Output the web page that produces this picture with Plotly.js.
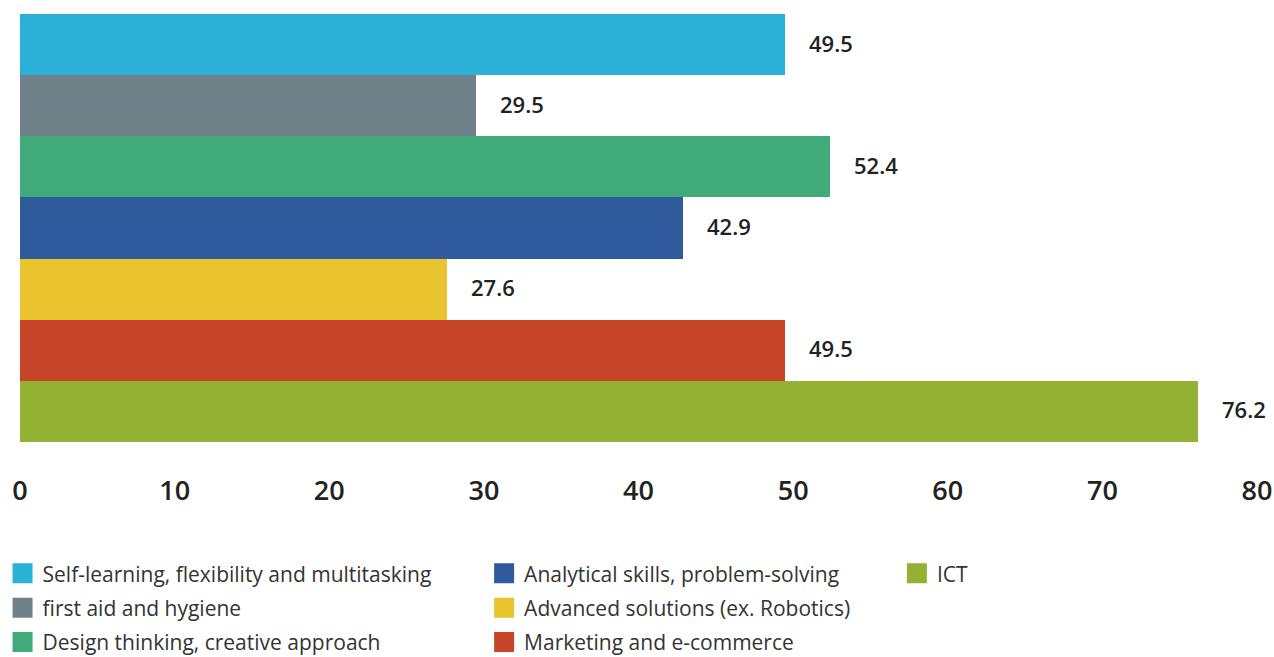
<!DOCTYPE html>
<html>
<head>
<meta charset="utf-8">
<script src="https://cdn.plot.ly/plotly-3.0.1.min.js"></script>
<style>html,body{margin:0;padding:0;background:#fff;}#chart{width:1274px;height:657px;}</style>
</head>
<body>
<div id="chart"></div>
<script>
var categories = [
  "Self-learning, flexibility and multitasking",
  "first aid and hygiene",
  "Design thinking, creative approach",
  "Analytical skills, problem-solving",
  "Advanced solutions (ex. Robotics)",
  "Marketing and e-commerce",
  "ICT"
];
var values = [49.5, 29.5, 52.4, 42.9, 27.6, 49.5, 76.2];
var valueLabels = ["49.5", "29.5", "52.4", "42.9", "27.6", "49.5", "76.2"];
var colors = ["#2bb1d7", "#718189", "#41aa7b", "#2f5b9d", "#e9c42f", "#c84428", "#93b233"];
var legendColumn = ["legend", "legend", "legend", "legend2", "legend2", "legend2", "legend3"];
var xTicks = [0, 10, 20, 30, 40, 50, 60, 70, 80];

var traces = [];
categories.forEach(function (c, i) {
  traces.push({
    type: "bar", orientation: "h",
    x: [values[i]], y: [c],
    marker: {color: colors[i]},
    showlegend: false, hoverinfo: "x+y"
  });
});
categories.forEach(function (c, i) {
  traces.push({
    type: "scatter", mode: "markers",
    x: [null], y: [null],
    name: c,
    legend: legendColumn[i],
    legendgroup: "g" + i,
    marker: {symbol: "square", size: 16, color: colors[i], line: {color: colors[i], width: 4}},
    showlegend: true, hoverinfo: "skip"
  });
});

var annotations = categories.map(function (c, i) {
  return {
    x: values[i], y: c, xref: "x", yref: "y",
    text: valueLabels[i], showarrow: false,
    xanchor: "left", yanchor: "middle", xshift: 22, yshift: 2,
    font: {family: "Open Sans", size: 22, color: "#222", weight: 600}
  };
});

var legendFont = {family: "Open Sans", size: 21, color: "#333"};
function legendAt(x) {
  return {
    x: x, y: 0.158, xref: "container", yref: "container",
    xanchor: "left", yanchor: "top", orientation: "v",
    font: legendFont, tracegroupgap: 4, bgcolor: "rgba(0,0,0,0)",
    itemclick: false, itemdoubleclick: false
  };
}

var layout = {
  width: 1274, height: 657,
  margin: {l: 20, r: 17, t: 14, b: 215, autoexpand: false},
  paper_bgcolor: "#fff", plot_bgcolor: "#fff",
  barmode: "overlay", bargap: 0,
  xaxis: {
    type: "linear", automargin: false,
    range: [0, 80], tickvals: xTicks, ticktext: xTicks.map(String),
    showgrid: false, zeroline: false, showline: false, ticks: "",
    ticklabelstandoff: 30,
    tickfont: {family: "Open Sans", size: 27, color: "#222", weight: 600}
  },
  yaxis: {
    type: "category", categoryorder: "array", categoryarray: categories,
    autorange: "reversed", showticklabels: false, showgrid: false,
    zeroline: false, showline: false, ticks: "", automargin: false
  },
  legend: legendAt(0.002),
  legend2: legendAt(0.38),
  legend3: legendAt(0.704),
  annotations: annotations,
  showlegend: true
};

Plotly.newPlot("chart", traces, layout, {displayModeBar: false, staticPlot: true});
</script>
</body>
</html>
